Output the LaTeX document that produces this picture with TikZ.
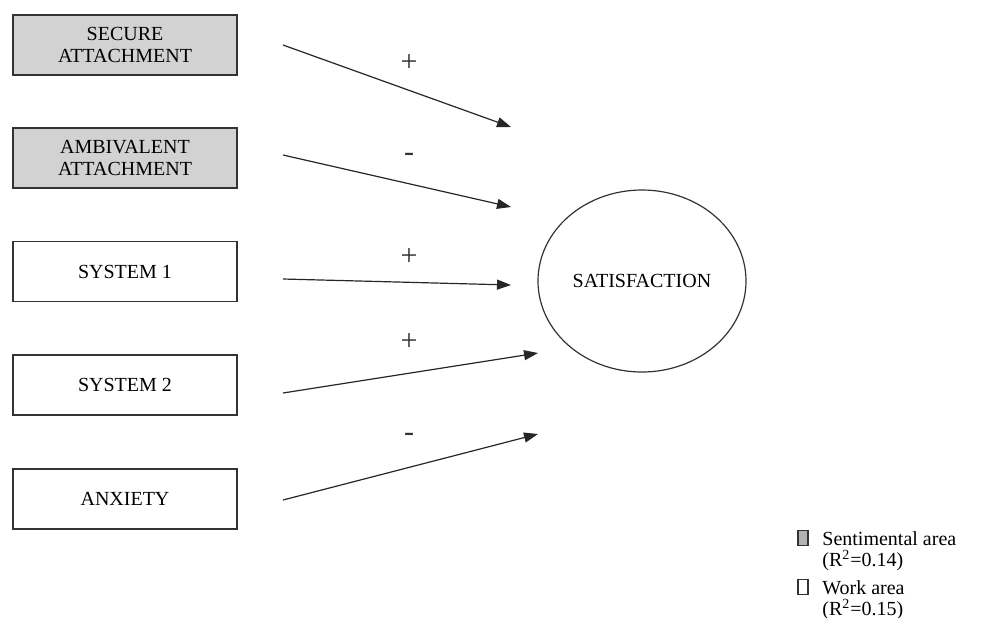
\documentclass[tikz,border=0pt]{standalone}
\usepackage{fontspec}
\setmainfont{Liberation Serif}
\usetikzlibrary{arrows.meta,shapes.geometric}
\definecolor{boxgray}{RGB}{210,210,210}
\begin{document}
\begin{tikzpicture}[x=0.5pt,y=-0.5pt,
  varbox/.style={draw=black!80,line width=0.6pt,minimum width=112pt,minimum height=30pt,inner sep=0pt,align=center,font=\fontsize{10}{11}\selectfont},
  shaded/.style={varbox,fill=boxgray},
  plain/.style={varbox,fill=white},
  arr/.style={-{Triangle[length=7pt,width=5pt]},line width=0.6pt,black!85},
  sign/.style={font=\fontsize{15}{16}\selectfont,text=black!80},
  legsq/.style={draw=black!80,line width=0.6pt,minimum width=5pt,minimum height=7.5pt,inner sep=0pt},
  legtxt/.style={anchor=north west,align=left,font=\fontsize{10}{10.5}\selectfont,inner sep=0pt}]
\useasboundingbox (0,0) rectangle (986,617);
\node[shaded] (secure) at (125,45) {SECURE\\ATTACHMENT};
\node[shaded] (ambi) at (125,158) {AMBIVALENT\\ATTACHMENT};
\node[plain] (sys1) at (125,271.5) {SYSTEM 1};
\node[plain] (sys2) at (125,385) {SYSTEM 2};
\node[plain] (anx) at (125,499) {ANXIETY};
\node[draw=black!80,line width=0.6pt,ellipse,minimum width=104pt,minimum height=91pt,inner sep=0pt,font=\fontsize{10}{11}\selectfont] (sat) at (642,281) {SATISFACTION};
\coordinate (s1) at (283,45);   \coordinate (e1) at (511,127);
\coordinate (s2) at (283,155);  \coordinate (e2) at (511,207);
\coordinate (s3) at (283,279);  \coordinate (e3) at (511,285);
\coordinate (s4) at (283,393);  \coordinate (e4) at (538,353);
\coordinate (s5) at (283,500);  \coordinate (e5) at (538,434);
\draw[arr] (s1) -- (e1);
\draw[arr] (s2) -- (e2);
\draw[arr] (s3) -- (e3);
\draw[arr] (s4) -- (e4);
\draw[arr] (s5) -- (e5);
\node[sign] (p1) at (409,63) {+};
\node[sign] (m1) at (409,157) {-};
\node[sign] (p2) at (409,257) {+};
\node[sign] (p3) at (409,342) {+};
\node[sign] (m2) at (409,437) {-};
\node[legsq,fill=black!30] (lg1) at (803,538) {};
\node[legsq,fill=white] (lg2) at (803,587) {};
\node[legtxt] (lt1) at (822,531) {Sentimental area\\(R\textsuperscript{2}=0.14)};
\node[legtxt] (lt2) at (822,580) {Work area\\(R\textsuperscript{2}=0.15)};
\end{tikzpicture}
\end{document}
